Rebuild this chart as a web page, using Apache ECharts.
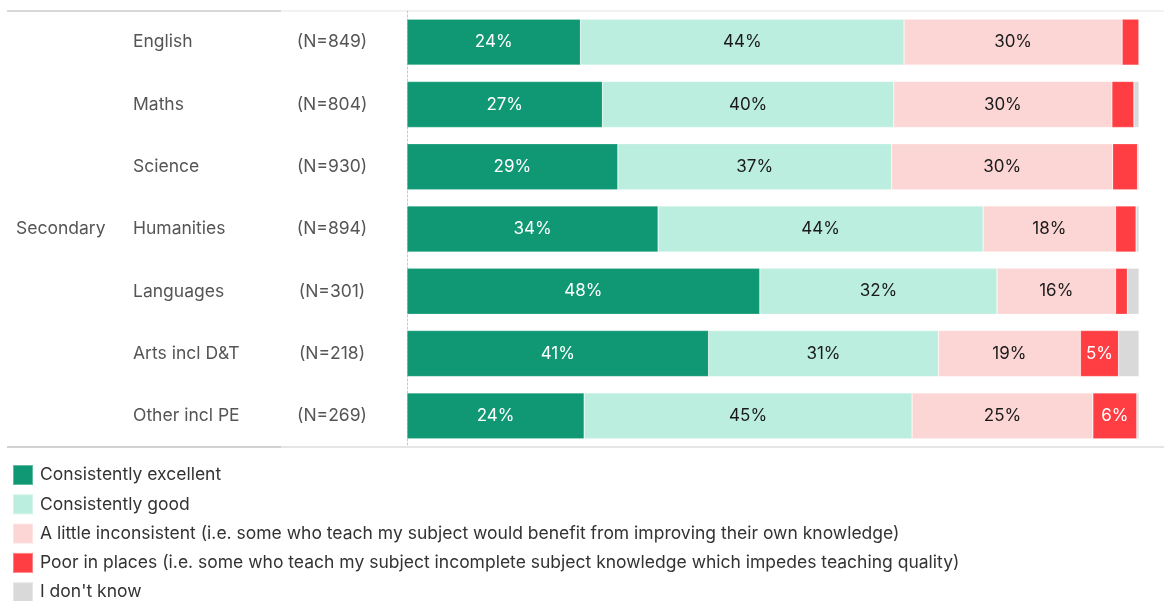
<!DOCTYPE html>
<html>
<head>
<meta charset="utf-8">
<script src="https://cdn.jsdelivr.net/npm/echarts@6/dist/echarts.min.js"></script>
<style>
html,body{margin:0;padding:0;background:#fff;}
#chart{width:1164px;height:601px;}
</style>
</head>
<body>
<div id="chart"></div>
<script>
const groupLabel = 'Secondary';
const subjects = ['English','Maths','Science','Humanities','Languages','Arts incl D&T','Other incl PE'];
const sampleSizes = ['(N=849)','(N=804)','(N=930)','(N=894)','(N=301)','(N=218)','(N=269)'];
const seriesNames = [
  'Consistently excellent',
  'Consistently good',
  'A little inconsistent (i.e. some who teach my subject would benefit from improving their own knowledge)',
  'Poor in places (i.e. some who teach my subject incomplete subject knowledge which impedes teaching quality)',
  "I don't know"
];
const excellent    = [23.7, 26.7, 28.8, 34.3, 48.2, 41.2, 24.2];
const good         = [44.2, 39.8, 37.4, 44.4, 32.4, 31.4, 44.8];
const inconsistent = [29.8, 29.8, 30.2, 18.1, 16.2, 19.4, 24.7];
const poor         = [2.3,  3.0,  3.4,  2.8,  1.6,  5.2,  6.0];
const dontKnow     = [0.0,  0.7,  0.2,  0.4,  1.6,  2.8,  0.3];

const colors = ['#0f9873','#bceedf','#fcd6d4','#fe3e42','#d9d9d9'];
const labelColors = ['#ffffff','#1a1a1a','#1a1a1a','#ffffff','#1a1a1a'];
const FONT = 'Inter';
const FS = 17.5;

const chart = echarts.init(document.getElementById('chart'));
const values = [excellent, good, inconsistent, poor, dontKnow];
const series = values.map((arr, i) => ({
  name: seriesNames[i],
  type: 'bar',
  stack: 'total',
  barWidth: 46,
  data: arr,
  itemStyle: { color: colors[i], borderColor: 'rgba(255,255,255,0.35)', borderWidth: 0.6 },
  label: {
    show: true,
    position: 'inside',
    color: labelColors[i],
    fontFamily: FONT,
    fontSize: 17,
    formatter: p => p.value >= 4.5 ? Math.round(p.value) + '%' : ''
  },
  emphasis: { disabled: true }
}));

chart.setOption({
  animation: false,
  textStyle: { fontFamily: FONT },
  grid: { left: 407, right: 25, top: 11, bottom: 154, containLabel: false },
  xAxis: { type: 'value', min: 0, max: 100, show: false },
  yAxis: [
    {
      type: 'category', inverse: true, data: subjects, position: 'left',
      axisLine: { show: true, lineStyle: { color: '#c8c8c8', type: [2, 2], width: 1 } },
      axisTick: { show: false },
      axisLabel: { align: 'left', margin: 274, color: '#555555', fontFamily: FONT, fontSize: FS }
    },
    {
      type: 'category', inverse: true, data: sampleSizes, position: 'left',
      axisLine: { show: false }, axisTick: { show: false },
      axisLabel: { align: 'center', margin: 75, color: '#555555', fontFamily: FONT, fontSize: FS }
    }
  ],
  legend: {
    orient: 'vertical', left: 12, top: 464, height: 200, padding: 0,
    itemWidth: 20, itemHeight: 20, itemGap: 7.3,
    icon: 'rect',
    selectedMode: false,
    textStyle: { color: '#333333', fontFamily: FONT, fontSize: FS, lineHeight: 20, padding: [0,0,0,2] },
    data: seriesNames
  },
  graphic: [
    { type: 'line', shape: { x1: 7, y1: 11, x2: 1164, y2: 11 }, style: { stroke: '#eeeeee', lineWidth: 1.5 }, silent: true },
    { type: 'line', shape: { x1: 7, y1: 11, x2: 281, y2: 11 }, style: { stroke: '#d0d0d0', lineWidth: 1.5 }, silent: true },
    { type: 'line', shape: { x1: 7, y1: 447, x2: 1164, y2: 447 }, style: { stroke: '#dddddd', lineWidth: 1.5 }, silent: true },
    { type: 'line', shape: { x1: 7, y1: 447, x2: 281, y2: 447 }, style: { stroke: '#cccccc', lineWidth: 1.5 }, silent: true },
    { type: 'text', x: 16, y: 229, style: { text: groupLabel, fill: '#555555', font: FS + 'px "' + FONT + '"', verticalAlign: 'middle' }, silent: true }
  ],
  series: series
});
</script>
</body>
</html>
